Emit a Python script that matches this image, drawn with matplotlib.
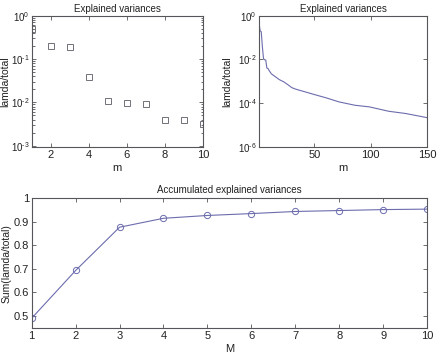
import numpy as np
import matplotlib
matplotlib.use("Agg")
from matplotlib import pyplot as plt
from matplotlib import ticker

plt.rcParams['font.family'] = ['Liberation Sans', 'DejaVu Sans']
plt.rcParams['mathtext.default'] = 'regular'
plt.rcParams['font.size'] = 7

# explained variance of the first components
m_first = [1, 2, 3, 4, 5, 6, 7, 8, 9, 10]
var_first = [0.49, 0.2, 0.185, 0.038, 0.011, 0.0096, 0.0094, 0.0040, 0.0039, 0.0031]

# spectrum up to 150
m_all = [1, 2, 3, 4, 5, 6, 7, 8, 9, 10, 12, 15, 19, 23, 27, 30, 33, 37, 42,
         50, 60, 72, 86, 99, 116, 131, 150]
var_all = [0.49, 0.2, 0.185, 0.038, 0.011, 0.0096, 0.0094, 0.0040, 0.0039, 0.0031,
           0.0022, 0.0017, 0.0012, 0.00095, 0.00068, 0.00052, 0.00045, 0.00039,
           0.00033, 0.00025, 0.00018, 0.000115, 0.000081, 0.000068, 0.000043,
           0.000034, 0.000022]

# accumulated
M = [1, 2, 3, 4, 5, 6, 7, 8, 9, 10]
acc = [0.49, 0.693, 0.877, 0.915, 0.927, 0.935, 0.944, 0.948, 0.952, 0.954]

line_c = '#6c6cae'
edge_c = '#55555a'
text_c = '#222222'

def pow_label(v, pos):
	# matlab-ish 10^-k with a short hyphen
	k = int(round(np.log10(v)))
	if k < 0:
		return '$10^{\u2010%d}$' % (-k)
	return '$10^{%d}$' % k

fig = plt.figure(figsize=(4.38, 3.54), dpi=100)

def style(ax):
	for s in ax.spines.values():
		s.set_color(edge_c)
		s.set_linewidth(0.8)
	ax.tick_params(which='both', direction='in', top=True, right=True,
		colors=edge_c, labelcolor=text_c, labelsize=8, width=0.6, pad=2)
	ax.tick_params(which='major', length=3)
	ax.tick_params(which='minor', length=1.8)

# top left
ax1 = fig.add_axes([0.0724, 0.5847, 0.391, 0.371])
ax1.semilogy(m_first, var_first, 's', mfc='none', mec='#707078', ms=4.5, mew=0.7)
ax1.set_xlim(1, 10)
ax1.set_ylim(10**-3.03, 1)
ax1.set_xticks([2, 4, 6, 8, 10])
ax1.yaxis.set_major_locator(ticker.LogLocator(base=10, numticks=10))
ax1.yaxis.set_minor_locator(ticker.LogLocator(base=10, subs=np.arange(2, 10), numticks=10))
ax1.yaxis.set_major_formatter(ticker.FuncFormatter(pow_label))
ax1.yaxis.set_minor_formatter(ticker.NullFormatter())
ax1.set_title('Explained variances', fontsize=7, pad=3, color=text_c)
ax1.set_xlabel('m', fontsize=8, labelpad=2, color=text_c)
ax1.set_ylabel('lamda/total', fontsize=7.5, color=text_c)
ax1.yaxis.set_label_coords(-0.125, 0.5)
style(ax1)
ax1.tick_params(axis='y', labelsize=7, pad=1.5)

# top right
ax2 = fig.add_axes([0.5913, 0.5847, 0.3836, 0.371])
ax2.semilogy(m_all, var_all, '-', color=line_c, lw=0.8)
ax2.set_xlim(1, 150)
ax2.set_ylim(1e-6, 1)
ax2.set_xticks([50, 100, 150])
ax2.set_yticks([1e-6, 1e-4, 1e-2, 1])
ax2.yaxis.set_major_formatter(ticker.FuncFormatter(pow_label))
ax2.yaxis.set_minor_locator(ticker.NullLocator())
ax2.set_title('Explained variances', fontsize=7, pad=3, color=text_c)
ax2.set_xlabel('m', fontsize=8, labelpad=2, color=text_c)
ax2.set_ylabel('lamda/total', fontsize=7.5, color=text_c)
ax2.yaxis.set_label_coords(-0.158, 0.5)
style(ax2)
ax2.tick_params(axis='y', labelsize=7, pad=1.5)

# bottom
ax3 = fig.add_axes([0.0724, 0.0726, 0.9025, 0.3672])
ax3.plot(M, acc, '-o', color=line_c, lw=0.8, mfc='none', mec=line_c, ms=4.5, mew=0.7)
ax3.set_xlim(1, 10)
ax3.set_ylim(0.447, 1)
ax3.set_xticks(M)
ax3.set_yticks([0.5, 0.6, 0.7, 0.8, 0.9, 1])
ax3.set_yticklabels(['0.5', '0.6', '0.7', '0.8', '0.9', '1'])
ax3.set_title('Accumulated explained variances', fontsize=7, pad=4, color=text_c)
ax3.set_xlabel('M', fontsize=8, labelpad=2, color=text_c)
ax3.set_ylabel('Sum(lamda/total)', fontsize=7.5, color=text_c)
ax3.yaxis.set_label_coords(-0.050, 0.5)
style(ax3)

fig.savefig('out.png', dpi=100)
